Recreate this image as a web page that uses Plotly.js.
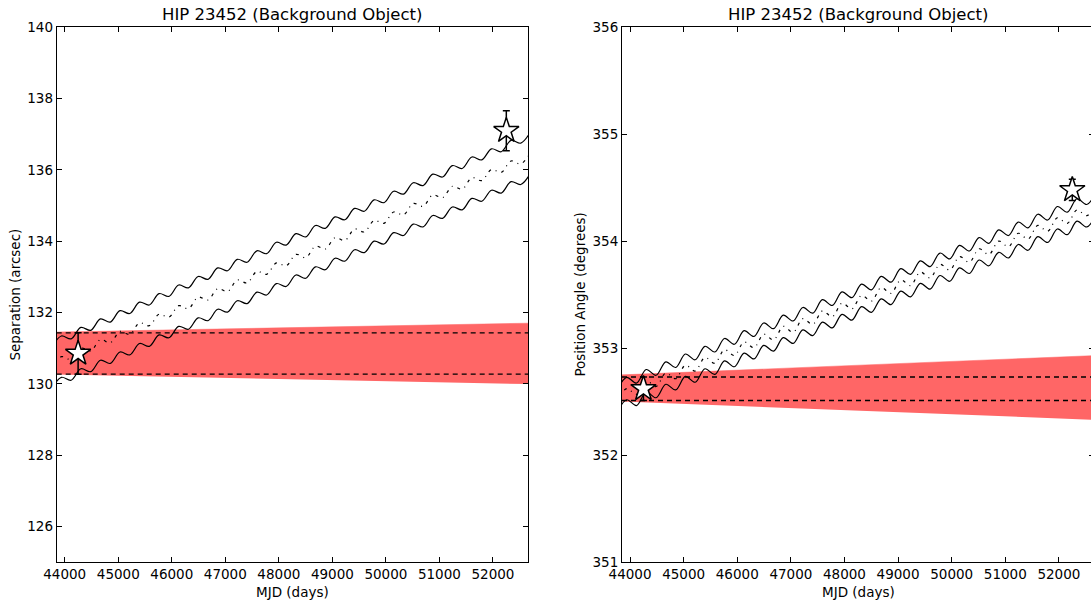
<!DOCTYPE html>
<html>
<head>
<meta charset="utf-8">
<script src="https://cdn.plot.ly/plotly-3.0.1.min.js"></script>
<style>
  html, body { margin: 0; padding: 0; background: #fff; overflow: hidden; }
  #chart { width: 1100px; height: 602px; }
</style>
</head>
<body>
<div id="chart"></div>
<script>
// Epochs (MJD) of the predicted background-object track, sampled at the parallax extrema
const trackMJD = [43754, 43937, 44120, 44302, 44485, 44668, 44850, 45033, 45215, 45398,
  45581, 45763, 45946, 46129, 46311, 46494, 46676, 46859, 47042, 47224,
  47407, 47590, 47772, 47955, 48137, 48320, 48503, 48685, 48868, 49051,
  49233, 49416, 49598, 49781, 49964, 50146, 50329, 50512, 50694, 50877,
  51059, 51242, 51425, 51607, 51790, 51973, 52155, 52338, 52520, 52703];

// Separation track (arcsec): expected path and its upper / lower envelopes
const sepTrackMid = [130.44, 130.76, 130.68, 131.00, 130.92, 131.24, 131.15, 131.47, 131.39, 131.71,
  131.63, 131.95, 131.87, 132.19, 132.11, 132.43, 132.35, 132.67, 132.59, 132.91,
  132.83, 133.15, 133.07, 133.39, 133.31, 133.63, 133.54, 133.86, 133.78, 134.10,
  134.02, 134.34, 134.26, 134.58, 134.50, 134.82, 134.74, 135.06, 134.98, 135.30,
  135.22, 135.54, 135.46, 135.78, 135.70, 136.01, 135.93, 136.25, 136.17, 136.49];
const sepTrackHi = [131.02, 131.34, 131.26, 131.58, 131.50, 131.82, 131.73, 132.05, 131.97, 132.29,
  132.21, 132.53, 132.45, 132.77, 132.69, 133.01, 132.93, 133.25, 133.17, 133.49,
  133.41, 133.73, 133.65, 133.97, 133.89, 134.21, 134.12, 134.44, 134.36, 134.68,
  134.60, 134.92, 134.84, 135.16, 135.08, 135.40, 135.32, 135.64, 135.56, 135.88,
  135.80, 136.12, 136.04, 136.36, 136.28, 136.59, 136.51, 136.83, 136.75, 137.07];
const sepTrackLo = [129.86, 130.18, 130.10, 130.42, 130.34, 130.66, 130.57, 130.89, 130.81, 131.13,
  131.05, 131.37, 131.29, 131.61, 131.53, 131.85, 131.77, 132.09, 132.01, 132.33,
  132.25, 132.57, 132.49, 132.81, 132.73, 133.05, 132.96, 133.28, 133.20, 133.52,
  133.44, 133.76, 133.68, 134.00, 133.92, 134.24, 134.16, 134.48, 134.40, 134.72,
  134.64, 134.96, 134.88, 135.20, 135.12, 135.43, 135.35, 135.67, 135.59, 135.91];

// Position-angle track (degrees)
const paTrackMid = [352.496, 352.622, 352.568, 352.695, 352.641, 352.767, 352.714, 352.840, 352.786, 352.912,
  352.859, 352.985, 352.931, 353.058, 353.004, 353.130, 353.077, 353.203, 353.149, 353.275,
  353.222, 353.348, 353.294, 353.421, 353.367, 353.493, 353.440, 353.566, 353.512, 353.638,
  353.585, 353.711, 353.657, 353.784, 353.730, 353.856, 353.803, 353.929, 353.875, 354.001,
  353.948, 354.074, 354.020, 354.147, 354.093, 354.219, 354.166, 354.292, 354.238, 354.364];
const paTrackHi = [352.601, 352.727, 352.673, 352.800, 352.746, 352.872, 352.819, 352.945, 352.891, 353.017,
  352.964, 353.090, 353.036, 353.163, 353.109, 353.235, 353.182, 353.308, 353.254, 353.380,
  353.327, 353.453, 353.399, 353.526, 353.472, 353.598, 353.545, 353.671, 353.617, 353.743,
  353.690, 353.816, 353.762, 353.889, 353.835, 353.961, 353.908, 354.034, 353.980, 354.106,
  354.053, 354.179, 354.125, 354.252, 354.198, 354.324, 354.271, 354.397, 354.343, 354.469];
const paTrackLo = [352.391, 352.517, 352.463, 352.590, 352.536, 352.662, 352.609, 352.735, 352.681, 352.807,
  352.754, 352.880, 352.826, 352.953, 352.899, 353.025, 352.972, 353.098, 353.044, 353.170,
  353.117, 353.243, 353.189, 353.316, 353.262, 353.388, 353.335, 353.461, 353.407, 353.533,
  353.480, 353.606, 353.552, 353.679, 353.625, 353.751, 353.698, 353.824, 353.770, 353.896,
  353.843, 353.969, 353.915, 354.042, 353.988, 354.114, 354.061, 354.187, 354.133, 354.259];

// Co-moving companion region (band) and the first-epoch measurement limits
const bandMJD = [43850, 52655];
const sepBandHi = [131.45, 131.70];
const sepBandLo = [130.26, 129.99];
const paBandHi = [352.75, 352.93];
const paBandLo = [352.50, 352.33];
const sepRefLevels = [131.43, 130.27];
const paRefLevels = [352.73, 352.51];

// Measured epochs
const obsMJD = [44250, 52250];
const obsSep = [130.85, 137.10];
const obsSepErr = [0.58, 0.56];
const obsPA = [352.62, 354.48];
const obsPAErr = [0.11, 0.10];

const xRange = [43850, 52655];
const sepRange = [125, 140];
const paRange = [351, 356];

const FONT = 'DejaVu Sans, Liberation Sans, sans-serif';
const BAND = 'rgb(255,102,102)';

function panelTraces(xa, ya, bandHi, bandLo, refLevels, hi, mid, lo, obsY, obsErr) {
  const t = [];
  t.push({x: bandMJD, y: bandLo, xaxis: xa, yaxis: ya, mode: 'lines',
          line: {width: 0, color: BAND}, showlegend: false});
  t.push({x: bandMJD, y: bandHi, xaxis: xa, yaxis: ya, mode: 'lines', fill: 'tonexty',
          fillcolor: BAND, line: {width: 0.5, color: BAND}, showlegend: false});
  refLevels.forEach(v => {
    t.push({x: bandMJD, y: [v, v], xaxis: xa, yaxis: ya, mode: 'lines',
            line: {color: 'black', width: 1.3, dash: '5px,4px'}, showlegend: false});
  });
  [hi, lo].forEach(arr => {
    t.push({x: trackMJD, y: arr, xaxis: xa, yaxis: ya, mode: 'lines',
            line: {color: 'black', width: 1.2, shape: 'spline', smoothing: 1}, showlegend: false});
  });
  t.push({x: trackMJD, y: mid, xaxis: xa, yaxis: ya, mode: 'lines',
          line: {color: 'black', width: 1.2, shape: 'spline', smoothing: 1, dash: '3px,5px,1px,5px'},
          showlegend: false});
  t.push({x: obsMJD, y: obsY, xaxis: xa, yaxis: ya, mode: 'markers',
          marker: {symbol: 'star', size: 19, color: 'white', line: {color: 'black', width: 1.5}},
          error_y: {type: 'data', array: obsErr, visible: true, color: 'black', thickness: 1.5, width: 3.5},
          showlegend: false});
  return t;
}

const data = [].concat(
  panelTraces('x', 'y', sepBandHi, sepBandLo, sepRefLevels, sepTrackHi, sepTrackMid, sepTrackLo, obsSep, obsSepErr),
  panelTraces('x2', 'y2', paBandHi, paBandLo, paRefLevels, paTrackHi, paTrackMid, paTrackLo, obsPA, obsPAErr)
);

const W = 1100, H = 602;
const yDom = [(H - 562) / H, (H - 27.3) / H];

function axisStyle(extra) {
  return Object.assign({
    showline: true, linecolor: 'black', linewidth: 1, mirror: 'ticks',
    ticks: 'inside', ticklen: 5, tickwidth: 1, tickcolor: 'black',
    showgrid: false, zeroline: false, fixedrange: true, tickformat: 'd',
    tickfont: {family: FONT, size: 13.5, color: 'black'}
  }, extra);
}

function label(text, x, y, size, angle) {
  return {text: text, xref: 'paper', yref: 'paper', x: x / W, y: (H - y) / H,
          xanchor: 'center', yanchor: 'middle', showarrow: false, textangle: angle || 0,
          font: {family: FONT, size: size, color: 'black'}};
}

const layout = {
  width: W, height: H,
  margin: {l: 0, r: 0, t: 0, b: 0},
  paper_bgcolor: 'white', plot_bgcolor: 'white',
  showlegend: false,
  xaxis: axisStyle({domain: [56.7 / W, 528 / W], range: xRange, tick0: 44000, dtick: 1000, anchor: 'y'}),
  yaxis: axisStyle({domain: yDom, range: sepRange, tick0: 126, dtick: 2, anchor: 'x'}),
  xaxis2: axisStyle({domain: [622 / W, 1094 / W], range: xRange, tick0: 44000, dtick: 1000, anchor: 'y2'}),
  yaxis2: axisStyle({domain: yDom, range: paRange, tick0: 351, dtick: 1, anchor: 'x2'}),
  annotations: [
    label('HIP 23452 (Background Object)', 292.35, 15, 16.5),
    label('HIP 23452 (Background Object)', 858, 15, 16.5),
    label('MJD (days)', 292.35, 592, 13.5),
    label('MJD (days)', 858, 592, 13.5),
    label('Separation (arcsec)', 15, 294.6, 13.5, -90),
    label('Position Angle (degrees)', 580, 294.6, 13.5, -90)
  ]
};

Plotly.newPlot('chart', data, layout, {displayModeBar: false, staticPlot: true});
</script>
</body>
</html>
